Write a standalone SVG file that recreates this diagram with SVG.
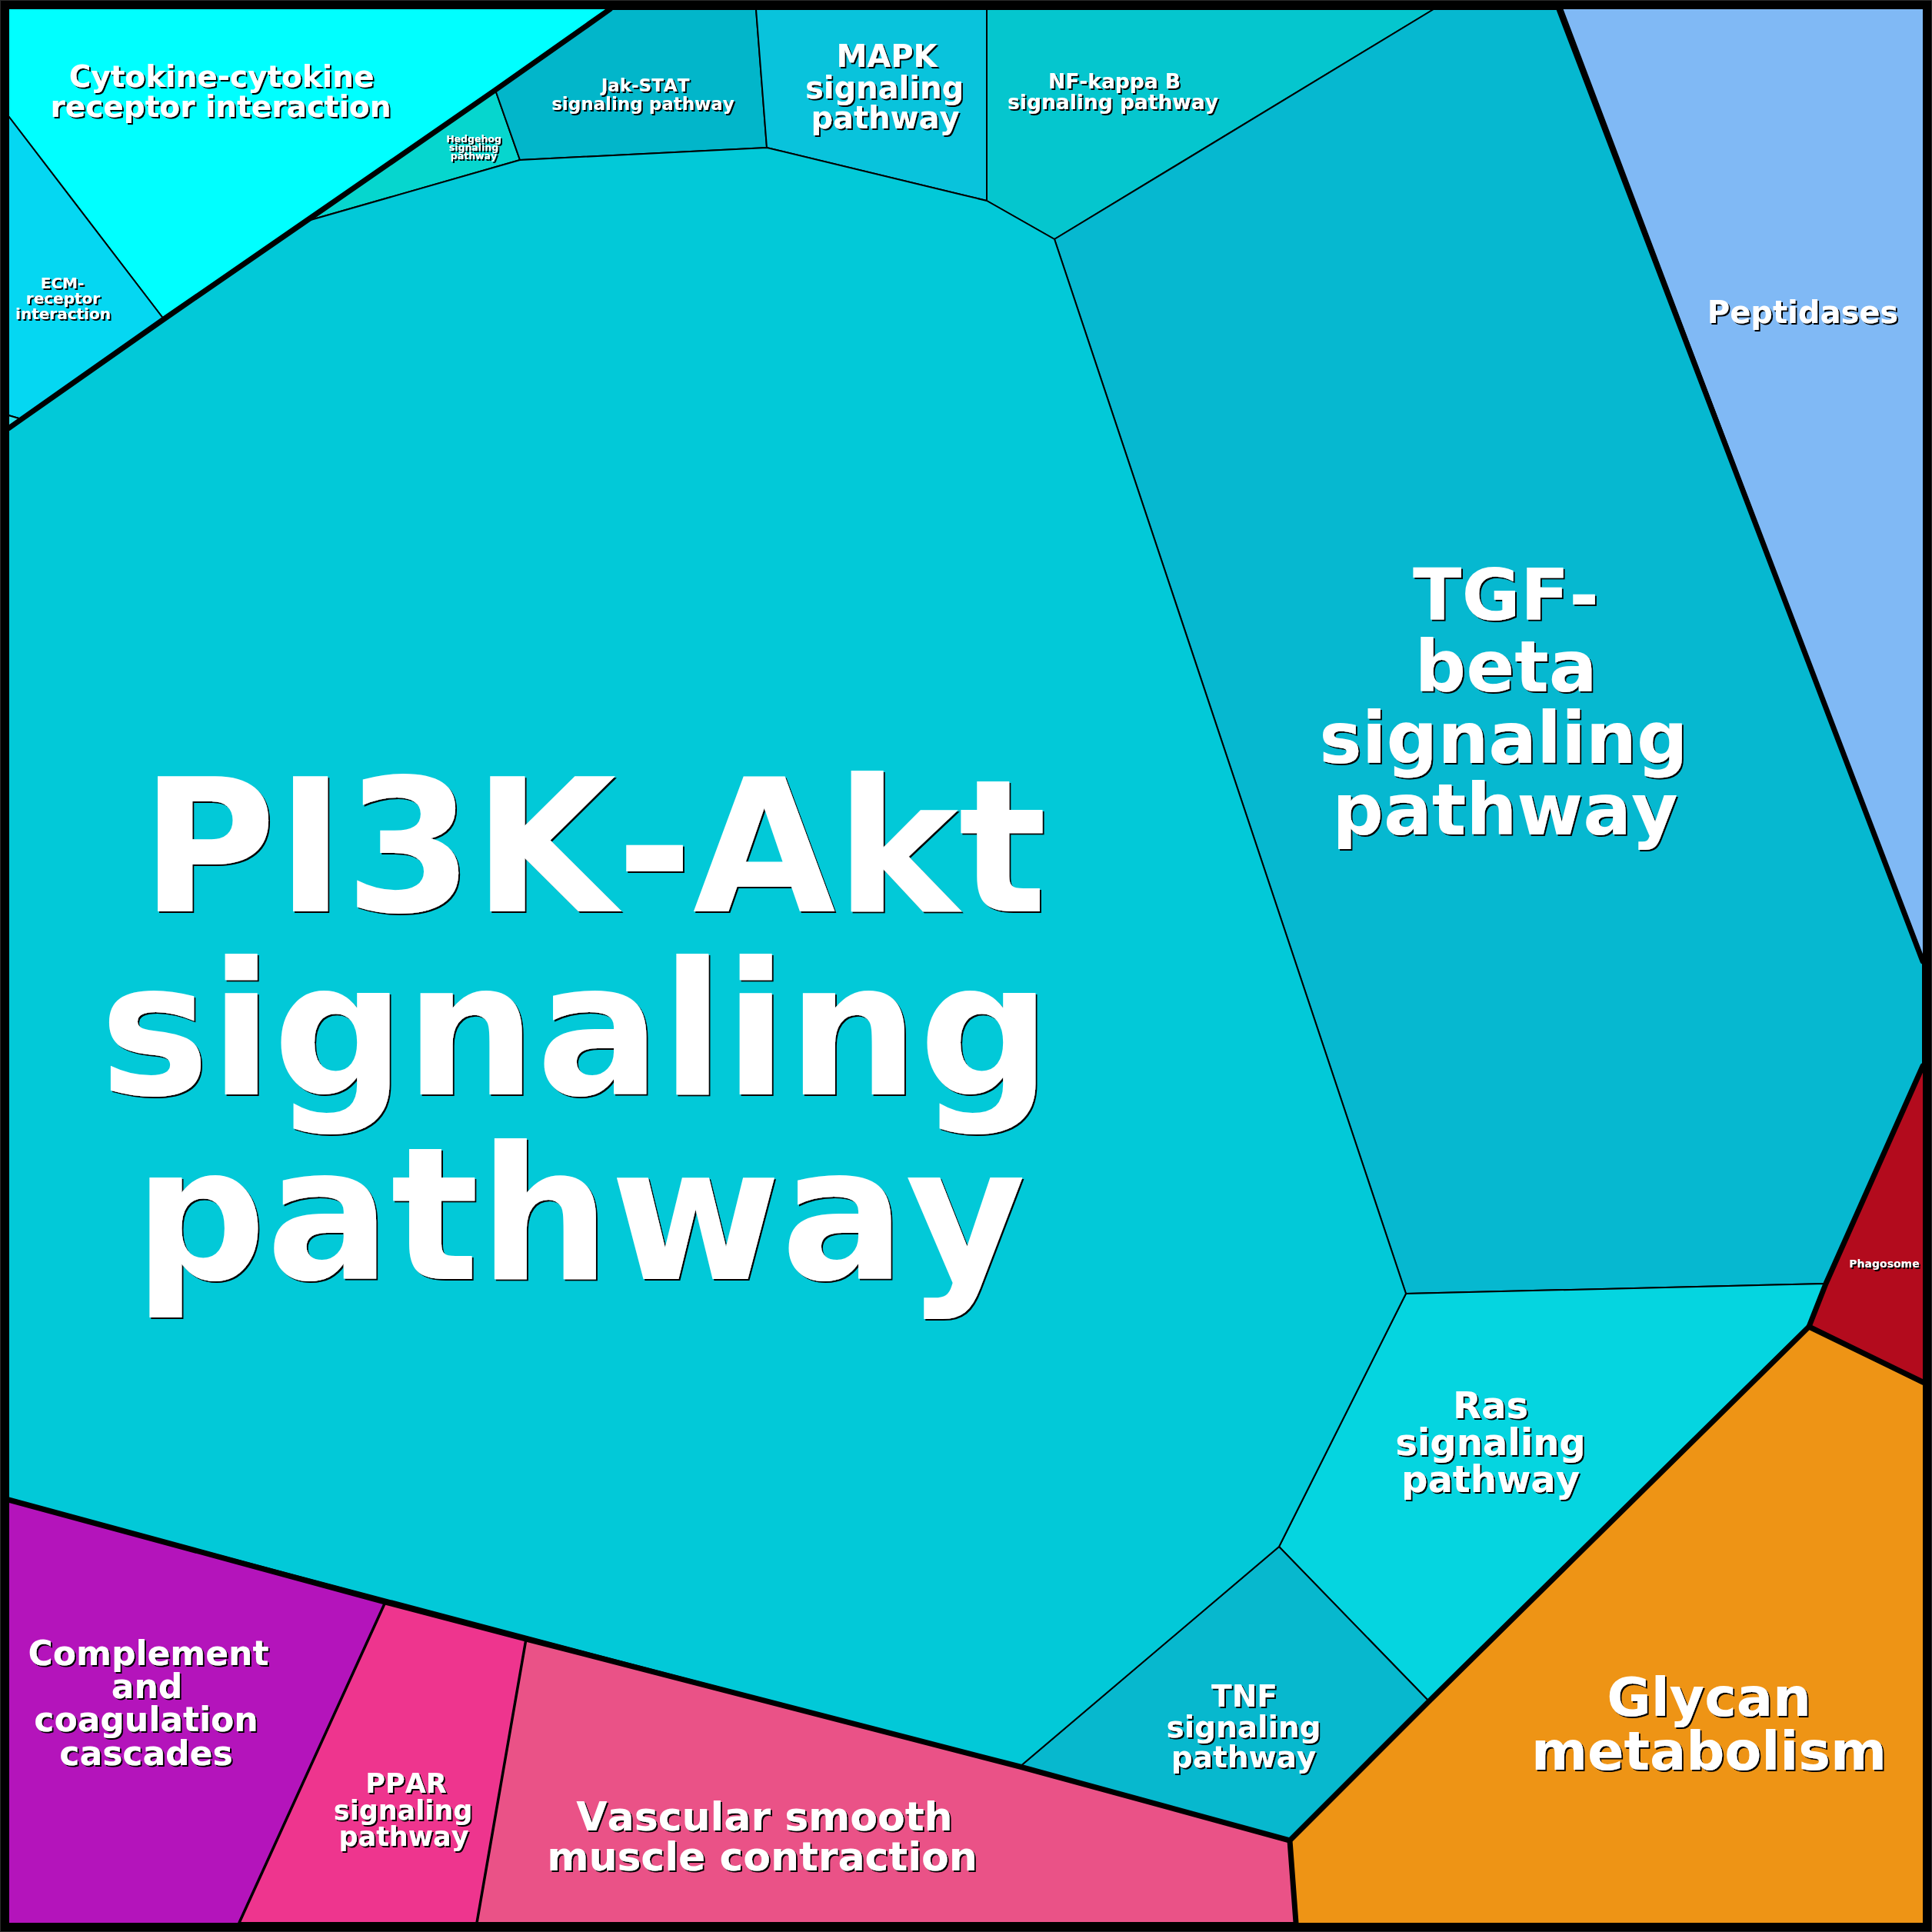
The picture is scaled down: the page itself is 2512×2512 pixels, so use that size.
<svg xmlns="http://www.w3.org/2000/svg" width="2512" height="2512" viewBox="0 0 2512 2512">
<defs>
<filter id="sh" x="-10%" y="-10%" width="120%" height="130%">
<feDropShadow dx="2" dy="2" stdDeviation="0.6" flood-color="#000" flood-opacity="1"/>
</filter>
</defs>
<style>
.cell{stroke:#000;stroke-width:2;stroke-linejoin:round}
.lbl{font-family:"DejaVu Sans","Liberation Sans",sans-serif;font-weight:bold;fill:#fff;text-anchor:middle;font-kerning:none;filter:url(#sh)}
.thick{fill:none;stroke:#000;stroke-width:7;stroke-linejoin:round;stroke-linecap:round}
.mid{fill:none;stroke:#000;stroke-width:3.5;stroke-linecap:round}
</style>
<rect x="0" y="0" width="2512" height="2512" fill="#02C9D8"/>

<g id="cytokine">
<polygon class="cell" fill="#00FFFF" points="0,0 793,0 793,12 644,117 397,288 213,415 11,151 0,151"/>
<text class="lbl" font-size="39"><tspan x="288" y="113">Cytokine-cytokine</tspan><tspan x="287" y="152">receptor interaction</tspan></text>
</g>
<g id="ecm">
<polygon class="cell" fill="#05D7F2" points="0,151 11,151 213,415 28,545 11,540 0,540"/>
<text class="lbl" font-size="20"><tspan x="81" y="375">ECM-</tspan><tspan x="82" y="395">receptor</tspan><tspan x="82" y="415">interaction</tspan></text>
</g>
<g id="tiny">
<polygon class="cell" fill="#30E2EC" points="11,540 28,545 11,557"/>
</g>
<g id="hedgehog">
<polygon class="cell" fill="#06D6CE" points="644,117 676,208 397,288"/>
<text class="lbl" font-size="12.5"><tspan x="616" y="185">Hedgehog</tspan><tspan x="616" y="196">signaling</tspan><tspan x="616" y="207">pathway</tspan></text>
</g>
<g id="jakstat">
<polygon class="cell" fill="#02B6CA" points="793,12 983,12 997,192 676,208 644,117"/>
<text class="lbl" font-size="23"><tspan x="839" y="119">Jak-STAT</tspan><tspan x="836" y="143">signaling pathway</tspan></text>
</g>
<g id="mapk">
<polygon class="cell" fill="#09C3DC" points="983,12 1283,12 1283,261 997,192"/>
<text class="lbl" font-size="40"><tspan x="1153" y="87">MAPK</tspan><tspan x="1150" y="128">signaling</tspan><tspan x="1151" y="167">pathway</tspan></text>
</g>
<g id="nfkappab">
<polygon class="cell" fill="#05C6CE" points="1283,12 1864,12 1371,311 1283,261"/>
<text class="lbl" font-size="26.5"><tspan x="1449" y="115">NF-kappa B</tspan><tspan x="1447" y="142">signaling pathway</tspan></text>
</g>
<g id="tgfbeta">
<polygon class="cell" fill="#06B8D0" points="1864,12 2027,12 2500,1250 2500,1386 2374,1669 1828,1682 1371,311"/>
<text class="lbl" font-size="93"><tspan x="1958" y="806">TGF-</tspan><tspan x="1958" y="899">beta</tspan><tspan x="1955" y="992">signaling</tspan><tspan x="1957" y="1085">pathway</tspan></text>
</g>
<g id="peptidases">
<polygon class="cell" fill="#80B9F5" points="2027,0 2512,0 2512,1250 2500,1250"/>
<text class="lbl" font-size="40" x="2344" y="420">Peptidases</text>
</g>
<g id="phagosome">
<polygon class="cell" fill="#B30B1D" points="2500,1386 2512,1386 2512,1797 2500,1797 2352,1725 2374,1669"/>
<text class="lbl" font-size="14" x="2450" y="1648">Phagosome</text>
</g>
<g id="ras">
<polygon class="cell" fill="#05D5E0" points="1828,1682 2374,1669 2352,1725 1858,2212 1663,2011"/>
<text class="lbl" font-size="48"><tspan x="1938" y="1844">Ras</tspan><tspan x="1938" y="1892">signaling</tspan><tspan x="1938" y="1940">pathway</tspan></text>
</g>
<g id="tnf">
<polygon class="cell" fill="#07B8CE" points="1663,2011 1858,2212 1677,2393 1326,2297"/>
<text class="lbl" font-size="39"><tspan x="1618" y="2219">TNF</tspan><tspan x="1617" y="2259">signaling</tspan><tspan x="1617" y="2298">pathway</tspan></text>
</g>
<g id="pi3kakt">
<polygon class="cell" fill="#02C9D8" points="11,557 28,545 213,415 397,288 676,208 997,192 1283,261 1371,311 1828,1682 1663,2011 1326,2297 11,1950"/>
<text class="lbl" font-size="240"><tspan x="772" y="1185">PI3K-Akt</tspan><tspan x="748" y="1423">signaling</tspan><tspan x="754" y="1663">pathway</tspan></text>
</g>
<g id="glycan">
<polygon class="cell" fill="#EE9415" points="2352,1725 2500,1797 2512,1797 2512,2512 1685,2512 1685,2500 1677,2393"/>
<text class="lbl" font-size="70"><tspan x="2222" y="2231">Glycan</tspan><tspan x="2222" y="2301">metabolism</tspan></text>
</g>
<g id="complement">
<polygon class="cell" fill="#B414BB" points="0,1950 11,1950 501,2083 311,2500 311,2512 0,2512"/>
<text class="lbl" font-size="44"><tspan x="193" y="2165">Complement</tspan><tspan x="191" y="2208">and</tspan><tspan x="190" y="2251">coagulation</tspan><tspan x="190" y="2295">cascades</tspan></text>
</g>
<g id="ppar">
<polygon class="cell" fill="#EE358E" points="501,2083 684,2131 620,2500 311,2500"/>
<text class="lbl" font-size="35"><tspan x="528" y="2331">PPAR</tspan><tspan x="524" y="2366">signaling</tspan><tspan x="525" y="2400">pathway</tspan></text>
</g>
<g id="vascular">
<polygon class="cell" fill="#EA5287" points="684,2131 1326,2297 1677,2393 1685,2500 620,2500"/>
<text class="lbl" font-size="52"><tspan x="994" y="2380">Vascular smooth</tspan><tspan x="991" y="2432">muscle contraction</tspan></text>
</g>

<g id="boundaries">
<polyline class="thick" points="793,12 644,117 397,288 213,415 28,545 11,557"/>
<polyline class="thick" points="2027,12 2500,1250"/>
<polyline class="thick" points="2500,1386 2374,1669 2352,1725 2500,1797"/>
<polyline class="thick" points="2352,1725 1858,2212 1677,2393 1685,2500"/>
<polyline class="thick" points="11,1950 501,2083 684,2131 1326,2297 1677,2393"/>
<polyline class="mid" points="501,2083 311,2500"/>
<polyline class="mid" points="684,2131 620,2500"/>
</g>
<rect x="6" y="6" width="2500" height="2500" fill="none" stroke="#000" stroke-width="12"/>
<rect x="0.5" y="0.5" width="2511" height="2511" fill="none" stroke="#2a2a2a" stroke-width="1"/>
</svg>
